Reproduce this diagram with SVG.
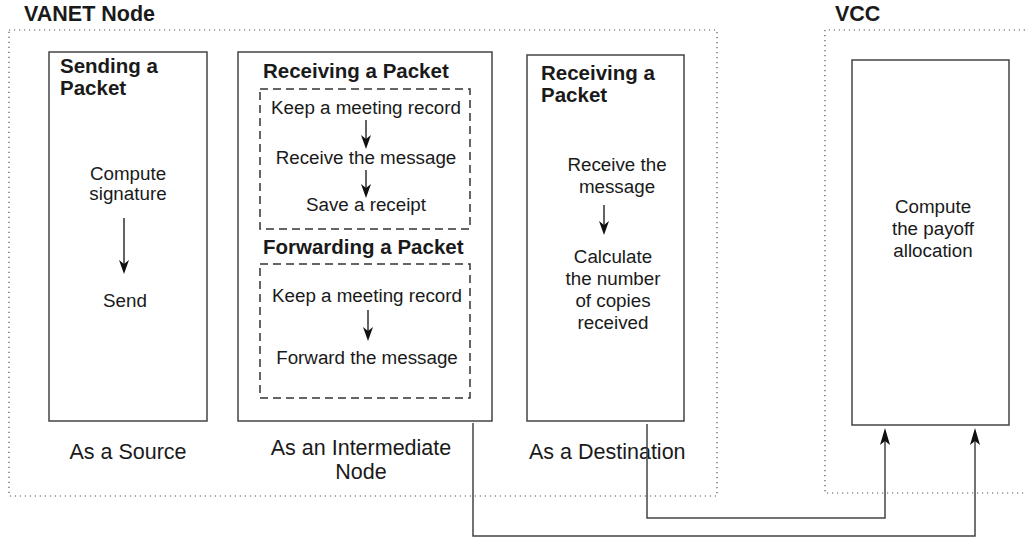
<svg xmlns="http://www.w3.org/2000/svg" width="1026" height="540" viewBox="0 0 1026 540">
<defs>
<style>
.t{font-family:"Liberation Sans",Arial,sans-serif;fill:#1a1a1a}
.b{font-weight:bold;font-size:20.5px}
.h{font-weight:bold;font-size:21.5px}
.n{font-size:18.8px;text-anchor:middle}
.l{font-size:21.5px;text-anchor:middle}
.ls{font-size:21.5px;text-anchor:start}
.box{fill:#fff;stroke:#444;stroke-width:1.5}
.dot{fill:none;stroke:#555;stroke-width:1.2;stroke-dasharray:1.2 3.8}
.dash{fill:none;stroke:#333;stroke-width:1.5;stroke-dasharray:8 5}
.sa{stroke:#222;stroke-width:1.4}
.hd{fill:#111}
.cn{fill:none;stroke:#444;stroke-width:1.5}
</style>
</defs>

<g id="vanet-group">
<rect class="dot" x="9" y="30" width="708" height="466"/>
<text class="t h" x="24" y="21">VANET Node</text>
</g>
<g id="vcc-group">
<path class="dot" d="M1030,30 H825 V493 H1030"/>
<text class="t h" x="835" y="21">VCC</text>
</g>

<g id="source">
<rect class="box" x="49" y="52" width="158" height="369"/>
<text class="t b" x="60" y="73">Sending a</text>
<text class="t b" x="60" y="95">Packet</text>
<text class="t n" x="128" y="180">Compute</text>
<text class="t n" x="128" y="200">signature</text>
<line class="sa" x1="124" y1="218" x2="124" y2="264"/>
<path class="hd" d="M124,274 L119,260 L124,264 L129,260 z"/>
<text class="t n" x="125" y="307">Send</text>
<text class="t l" x="128" y="459">As a Source</text>
</g>

<g id="intermediate">
<rect class="box" x="238" y="52" width="254" height="369"/>
<text class="t b" x="263" y="78">Receiving a Packet</text>
<rect class="dash" x="260" y="89" width="210" height="140"/>
<text class="t n" x="366" y="114">Keep a meeting record</text>
<line class="sa" x1="366" y1="120" x2="366" y2="140"/>
<path class="hd" d="M366,149 L361,135 L366,139 L371,135 z"/>
<text class="t n" x="366" y="164">Receive the message</text>
<line class="sa" x1="366" y1="170" x2="366" y2="189"/>
<path class="hd" d="M366,198 L361,184 L366,188 L371,184 z"/>
<text class="t n" x="366" y="211">Save a receipt</text>
<text class="t b" x="263" y="254">Forwarding a Packet</text>
<rect class="dash" x="260" y="264" width="210" height="134"/>
<text class="t n" x="367" y="302">Keep a meeting record</text>
<line class="sa" x1="368" y1="310" x2="368" y2="332"/>
<path class="hd" d="M368,341 L363,327 L368,331 L373,327 z"/>
<text class="t n" x="367" y="364">Forward the message</text>
<text class="t l" x="361" y="455">As an Intermediate</text>
<text class="t l" x="361" y="479">Node</text>
</g>

<g id="destination">
<rect class="box" x="527" y="55" width="157" height="366"/>
<text class="t b" x="541" y="80">Receiving a</text>
<text class="t b" x="541" y="102">Packet</text>
<text class="t n" x="617" y="171">Receive the</text>
<text class="t n" x="617" y="193">message</text>
<line class="sa" x1="604" y1="205" x2="604" y2="226"/>
<path class="hd" d="M604,235 L599,221 L604,225 L609,221 z"/>
<text class="t n" x="613" y="263">Calculate</text>
<text class="t n" x="613" y="285">the number</text>
<text class="t n" x="613" y="307">of copies</text>
<text class="t n" x="613" y="329">received</text>
<text class="t ls" x="529" y="459">As a Destination</text>
</g>

<g id="vcc">
<rect class="box" x="852" y="60" width="157" height="365"/>
<text class="t n" x="933" y="213">Compute</text>
<text class="t n" x="933" y="235">the payoff</text>
<text class="t n" x="933" y="257">allocation</text>
</g>

<g id="connectors">
<path class="cn" d="M473,423 V536 H975 V440"/>
<path class="hd" d="M975,428 L980,445 L975,441 L970,445 z"/>
<path class="cn" d="M647,424 V518 H885 V440"/>
<path class="hd" d="M885,428 L890,445 L885,441 L880,445 z"/>
</g>
</svg>
